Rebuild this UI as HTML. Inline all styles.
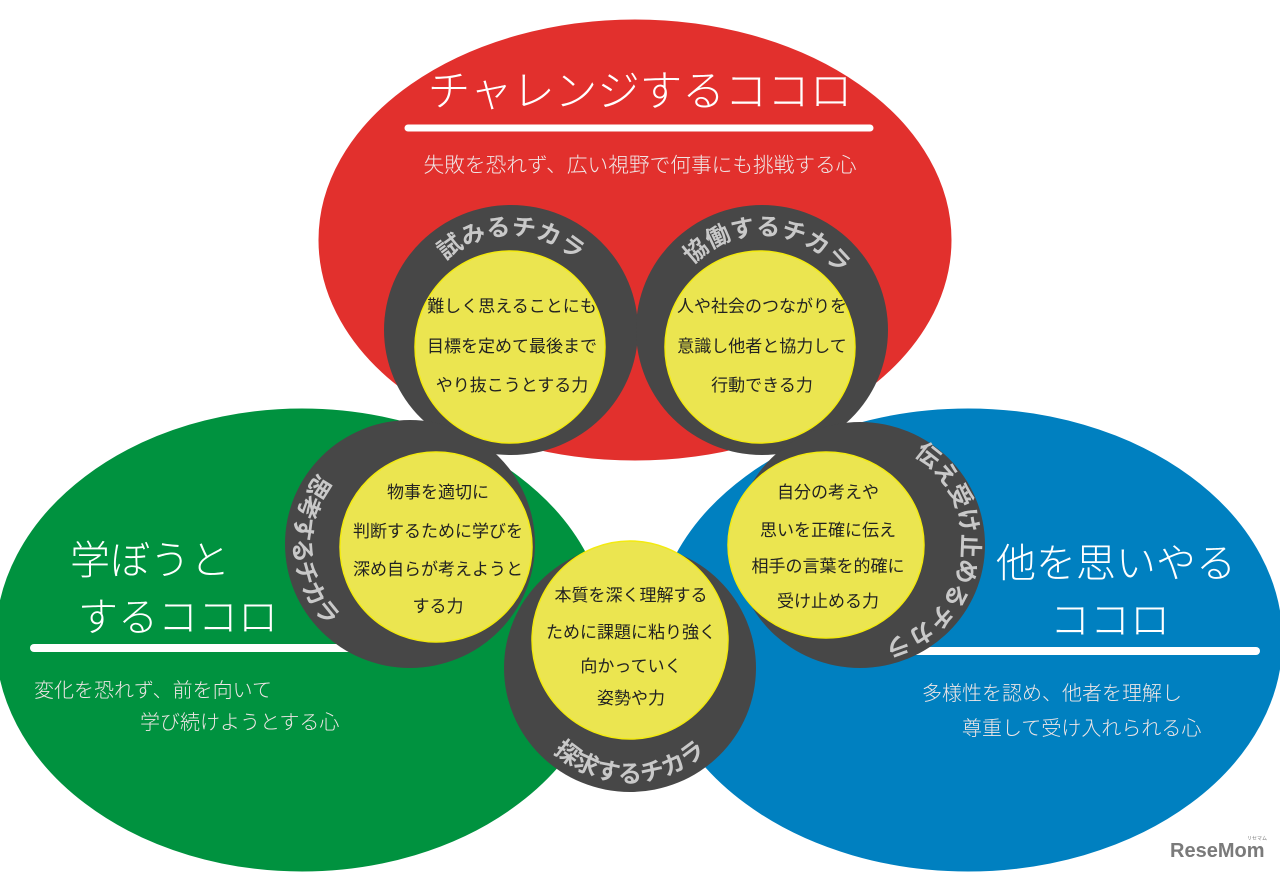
<!DOCTYPE html>
<html><head><meta charset="utf-8"><style>
html,body{margin:0;padding:0;background:#fff;}
svg{display:block;font-family:"Liberation Sans","Noto Sans CJK JP",sans-serif;}
.y{font-size:17px;fill:#222;text-anchor:middle;}
.lab{font-size:24px;font-weight:bold;fill:#c9c9c9;}
.h{fill:#fff;font-size:40px;font-weight:300;}
.s{fill:#f0e6e6;font-size:20px;font-weight:300;}
</style></head><body>
<svg width="1280" height="872" viewBox="0 0 1280 872">
<defs>
<path id="p1" d="M416,330 A95,95 0 0 1 606,330"/>
<path id="p2" d="M667,330 A95,95 0 0 1 857,330"/>
<path id="p3" d="M410,428 A116,116 0 0 0 410,660"/>
<path id="p4" d="M860,440 A102,102 0 0 1 860,644"/>
<path id="p5" d="M518,670 A112,112 0 0 0 742,670"/>
</defs>
<ellipse cx="635" cy="240" rx="318" ry="222" fill="#e2302d" stroke="#fff" stroke-width="3"/>
<ellipse cx="302" cy="640" rx="308" ry="233" fill="#00923f" stroke="#fff" stroke-width="3"/>
<ellipse cx="968" cy="640" rx="316" ry="233" fill="#0080c0" stroke="#fff" stroke-width="3"/>

<text x="640" y="106" class="h" style="font-size:42.5px" text-anchor="middle">チャレンジするココロ</text>
<line x1="408" y1="128" x2="870" y2="128" stroke="#fff" stroke-width="7" stroke-linecap="round"/>
<text x="640" y="172" class="s" text-anchor="middle" style="font-size:20.7px">失敗を恐れず、広い視野で何事にも挑戦する心</text>

<line x1="34" y1="648" x2="360" y2="648" stroke="#fff" stroke-width="8" stroke-linecap="round"/>
<text x="70" y="574" class="h">学ぼうと</text>
<text x="78" y="631" class="h">するココロ</text>
<text x="34" y="697" class="s">変化を恐れず、前を向いて</text>
<text x="140" y="729" class="s">学び続けようとする心</text>

<line x1="900" y1="651" x2="1256" y2="651" stroke="#fff" stroke-width="8" stroke-linecap="round"/>
<text x="996" y="577" class="h">他を思いやる</text>
<text x="1050" y="634" class="h">ココロ</text>
<text x="922" y="700" class="s">多様性を認め、他者を理解し</text>
<text x="962" y="735" class="s">尊重して受け入れられる心</text>

<ellipse cx="511" cy="330" rx="127" ry="125" fill="#474747"/>
<ellipse cx="762" cy="330" rx="126" ry="125" fill="#474747"/>
<ellipse cx="410" cy="544" rx="125" ry="124" fill="#474747"/>
<ellipse cx="860" cy="545" rx="125" ry="123" fill="#474747"/>
<ellipse cx="630" cy="668" rx="126" ry="124" fill="#474747"/>

<ellipse cx="510" cy="347" rx="95" ry="96" fill="#ebe550" stroke="#f3ea10" stroke-width="1.5"/>
<ellipse cx="760" cy="347" rx="95" ry="96" fill="#ebe550" stroke="#f3ea10" stroke-width="1.5"/>
<ellipse cx="436" cy="547" rx="96" ry="95" fill="#ebe550" stroke="#f3ea10" stroke-width="1.5"/>
<ellipse cx="826" cy="545" rx="98" ry="93" fill="#ebe550" stroke="#f3ea10" stroke-width="1.5"/>
<ellipse cx="630" cy="640" rx="98" ry="99" fill="#ebe550" stroke="#f3ea10" stroke-width="1.5"/>

<text class="lab"><textPath href="#p1" startOffset="50%" text-anchor="middle">試みるチカラ</textPath></text>
<text class="lab"><textPath href="#p2" startOffset="52%" text-anchor="middle">協働するチカラ</textPath></text>
<text class="lab"><textPath href="#p3" startOffset="52%" text-anchor="middle">思考するチカラ</textPath></text>
<text class="lab"><textPath href="#p4" startOffset="55%" text-anchor="middle">伝え受け止めるチカラ</textPath></text>
<text class="lab"><textPath href="#p5" startOffset="50%" text-anchor="middle">探求するチカラ</textPath></text>

<text class="y" x="512" y="312">難しく思えることにも</text>
<text class="y" x="512" y="352">目標を定めて最後まで</text>
<text class="y" x="512" y="391">やり抜こうとする力</text>

<text class="y" x="762" y="312">人や社会のつながりを</text>
<text class="y" x="762" y="352">意識し他者と協力して</text>
<text class="y" x="762" y="391">行動できる力</text>

<text class="y" x="438" y="498">物事を適切に</text>
<text class="y" x="438" y="537">判断するために学びを</text>
<text class="y" x="438" y="575">深め自らが考えようと</text>
<text class="y" x="438" y="612">する力</text>

<text class="y" x="828" y="498">自分の考えや</text>
<text class="y" x="828" y="536">思いを正確に伝え</text>
<text class="y" x="828" y="572">相手の言葉を的確に</text>
<text class="y" x="828" y="607">受け止める力</text>

<text class="y" x="631" y="601">本質を深く理解する</text>
<text class="y" x="631" y="638">ために課題に粘り強く</text>
<text class="y" x="631" y="672">向かっていく</text>
<text class="y" x="631" y="704">姿勢や力</text>

<text x="1170" y="857" font-size="20" font-weight="bold" fill="#7a7a7a">ReseMom</text>
<text x="1247" y="840" font-size="5" fill="#7a7a7a">リセマム</text>
</svg>
</body></html>
